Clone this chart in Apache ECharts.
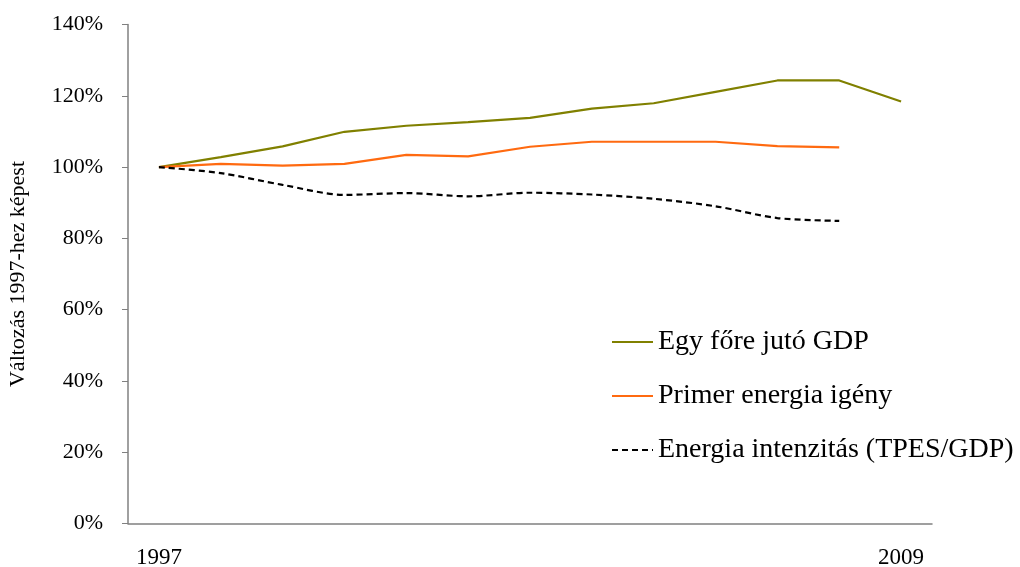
<!DOCTYPE html>
<html lang="hu">
<head>
    <meta charset="UTF-8">
    <title>Változás 1997-hez képest</title>
    <script src="https://cdnjs.cloudflare.com/ajax/libs/echarts/6.0.0/echarts.min.js"></script>
    <style>
        body { margin: 0; background: #fff; }
        #main { width: 1020px; height: 567px; }
    </style>
</head>
<body>
    <div id="main"></div>
    <script>
        const years = ['1997', '1998', '1999', '2000', '2001', '2002', '2003', '2004', '2005', '2006', '2007', '2008', '2009'];
        const gdpPerCapita = [100, 102.8, 105.8, 109.9, 111.6, 112.6, 113.8, 116.4, 117.9, 121.1, 124.3, 124.3, 118.4];
        const primaryEnergy = [100, 100.9, 100.4, 100.9, 103.4, 103.0, 105.7, 107.1, 107.1, 107.1, 105.9, 105.5, null];
        const energyIntensity = [100, 98.3, 95.0, 92.2, 92.7, 91.8, 92.8, 92.3, 91.1, 89.0, 85.7, 84.9, null];
        const yTicks = [0, 20, 40, 60, 80, 100, 120, 140];

        const chart = echarts.init(document.getElementById('main'));
        const serif = 'Liberation Serif';

        const option = {
            animation: false,
            grid: { left: 128, right: 88, top: 24.5, bottom: 43.5, outerBoundsMode: 'none' },
            legend: {
                orient: 'vertical',
                left: 606,
                top: 322,
                itemWidth: 41,
                itemHeight: 30,
                itemGap: 24,
                itemStyle: { opacity: 0 },
                textStyle: { fontFamily: serif, fontSize: 28, lineHeight: 30, color: '#000' },
                data: ['Egy főre jutó GDP', 'Primer energia igény', 'Energia intenzitás (TPES/GDP)']
            },
            xAxis: {
                type: 'category',
                data: years,
                boundaryGap: true,
                axisLine: { lineStyle: { color: '#808080', width: 1.5 } },
                axisTick: { show: false },
                axisLabel: {
                    interval: (i) => i === 0 || i === years.length - 1,
                    margin: 23,
                    fontFamily: serif,
                    fontSize: 23,
                    color: '#000'
                }
            },
            yAxis: {
                type: 'value',
                min: yTicks[0],
                max: yTicks[yTicks.length - 1],
                interval: 20,
                name: 'Változás 1997-hez képest',
                nameLocation: 'middle',
                nameGap: 99,
                nameTextStyle: { fontFamily: serif, fontSize: 22, color: '#000' },
                splitLine: { show: false },
                axisLine: { show: true, lineStyle: { color: '#808080', width: 1.5 } },
                axisTick: { show: true, length: 6, lineStyle: { color: '#808080' } },
                axisLabel: {
                    formatter: '{value}%',
                    margin: 25,
                    fontFamily: serif,
                    fontSize: 22,
                    color: '#000'
                }
            },
            series: [
                {
                    name: 'Egy főre jutó GDP',
                    type: 'line',
                    data: gdpPerCapita,
                    symbol: 'none',
                    lineStyle: { color: '#808000', width: 2.2 },
                    itemStyle: { color: '#808000' }
                },
                {
                    name: 'Primer energia igény',
                    type: 'line',
                    data: primaryEnergy,
                    symbol: 'none',
                    lineStyle: { color: '#ff6a10', width: 2.2 },
                    itemStyle: { color: '#ff6a10' }
                },
                {
                    name: 'Energia intenzitás (TPES/GDP)',
                    type: 'line',
                    data: energyIntensity,
                    symbol: 'none',
                    smooth: 0.3,
                    lineStyle: { color: '#000', width: 2.2, type: [6, 4] },
                    itemStyle: { color: '#000' }
                }
            ]
        };

        chart.setOption(option);
    </script>
</body>
</html>
